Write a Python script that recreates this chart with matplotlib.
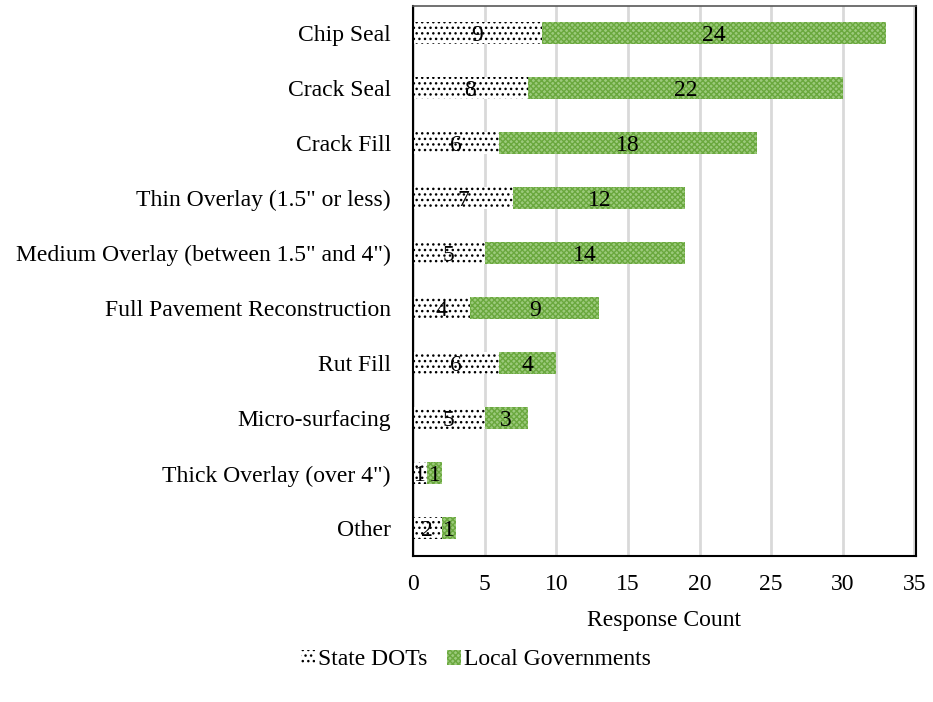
import numpy as np
import matplotlib.pyplot as plt

plt.rcParams["font.family"] = ["Liberation Serif", "DejaVu Serif"]
plt.rcParams["hatch.linewidth"] = 1.0

categories = [
    "Chip Seal",
    "Crack Seal",
    "Crack Fill",
    'Thin Overlay (1.5" or less)',
    'Medium Overlay (between 1.5" and 4")',
    "Full Pavement Reconstruction",
    "Rut Fill",
    "Micro-surfacing",
    'Thick Overlay (over 4")',
    "Other",
]
state_dots = [9, 8, 6, 7, 5, 4, 6, 5, 1, 2]
local_govs = [24, 22, 18, 12, 14, 9, 4, 3, 1, 1]

fig = plt.figure(figsize=(9.33, 7.02), dpi=100)
ax = fig.add_axes([0.4427, 0.208, 0.539, 0.784])

y = np.arange(len(categories))
h = 0.4

b1 = ax.barh(y, state_dots, height=h, color="white", edgecolor="black",
             hatch="...", linewidth=0, label="State DOTs", zorder=2)
b2 = ax.barh(y, local_govs, left=state_dots, height=h, color="#9cca7c",
             edgecolor="#6aa83e", hatch="xxxxxx", linewidth=0,
             label="Local Governments", zorder=2)

# segment labels
for i in range(len(categories)):
    ax.text(state_dots[i] / 2, y[i], str(state_dots[i]), ha="center",
            va="center_baseline", fontsize=17, zorder=3)
    ax.text(state_dots[i] + local_govs[i] / 2, y[i], str(local_govs[i]),
            ha="center", va="center_baseline", fontsize=17, zorder=3)

ax.set_ylim(len(categories) - 0.5, -0.5)
ax.set_xlim(0, 35.1)
ax.set_xticks(range(0, 36, 5))
ax.set_yticks(y)
ax.set_yticklabels(categories, fontsize=17)
ax.tick_params(axis="x", labelsize=17, length=0, pad=13)
ax.tick_params(axis="y", length=0, pad=16)
ax.xaxis.grid(True, color="#d9d9d9", linewidth=2, zorder=0)
ax.set_axisbelow(True)
ax.spines["top"].set_color("#595959")
ax.spines["top"].set_linewidth(1.2)
for s in ["left", "bottom", "right"]:
    ax.spines[s].set_linewidth(1.5)
ax.set_xlabel("Response Count", fontsize=17, labelpad=11)

fig.legend(handles=[b1, b2], loc="center", bbox_to_anchor=(0.51, 0.06), ncol=2,
           frameon=False, fontsize=17, handlelength=0.6, handleheight=0.6,
           handletextpad=0.15, columnspacing=0.8)

fig.savefig("out.png", dpi=100)
